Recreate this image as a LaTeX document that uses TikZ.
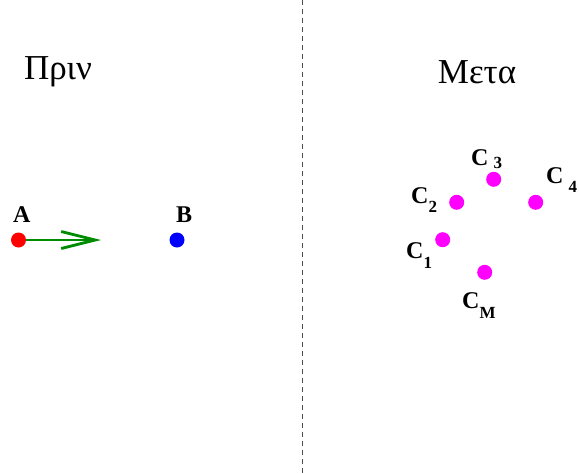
\documentclass[tikz,border=0pt]{standalone}
\usepackage{fontspec}
\setmainfont{Liberation Serif}
\usetikzlibrary{arrows.meta}

\definecolor{ptred}{RGB}{255,0,0}
\definecolor{ptblue}{RGB}{0,0,255}
\definecolor{ptmagenta}{RGB}{255,0,255}
\definecolor{arrowgreen}{RGB}{0,140,0}

\newcommand{\lowsub}[2]{\raisebox{-#1pt}{\fontsize{17}{17}\selectfont #2}}

\begin{document}
\begin{tikzpicture}[x=1pt, y=-1pt]
    % Definizione stili
    \tikzset{
        point/.style={circle, fill=#1, inner sep=0pt, minimum size=15pt},
        title/.style={font=\fontsize{35}{35}\selectfont, inner sep=0pt},
        label/.style={font=\fontsize{24}{24}\selectfont\bfseries, inner sep=0pt, anchor=base west},
        motion/.style={-{Straight Barb[length=34pt, width=17pt]}, line width=2.8pt, draw=arrowgreen},
        divider/.style={gray!60!black, line width=0.9pt, dash pattern=on 5pt off 4pt}
    }
    \useasboundingbox (0,0) rectangle (579,474);

    % Separatore
    \coordinate (top) at (302,0);
    \coordinate (bottom) at (302,474);
    \draw[divider] (top) -- (bottom);

    % Titoli
    \node[title] at (58,72) (before) {Πριν};
    \node[title] at (477,72) (after) {Μετα};

    % Prima dell'urto
    \node[point=ptred] at (18.5,240) (dotA) {};
    \node[point=ptblue] at (177,240) (dotB) {};
    \node[label] at (13,222) (labA) {A};
    \node[label] at (176,222) (labB) {B};
    \coordinate (tipA) at (101,240);
    \draw[motion] (dotA.east) -- (tipA);

    % Dopo l'urto
    \node[point=ptmagenta] at (442.7,239.7) (dotC1) {};
    \node[point=ptmagenta] at (456.7,202.3) (dotC2) {};
    \node[point=ptmagenta] at (493.7,179.3) (dotC3) {};
    \node[point=ptmagenta] at (535.7,202.3) (dotC4) {};
    \node[point=ptmagenta] at (484.7,272.3) (dotCM) {};

    \node[label] at (406,258) (labC1) {C\lowsub{10}{1}};
    \node[label] at (411,203) (labC2) {C\lowsub{9}{2}};
    \node[label] at (471,165) (labC3) {C\hspace{5pt}\lowsub{3}{3}};
    \node[label] at (546,183) (labC4) {C\hspace{5pt}\lowsub{9}{4}};
    \node[label] at (462,308) (labCM) {C\lowsub{10}{M}};

\end{tikzpicture}
\end{document}
